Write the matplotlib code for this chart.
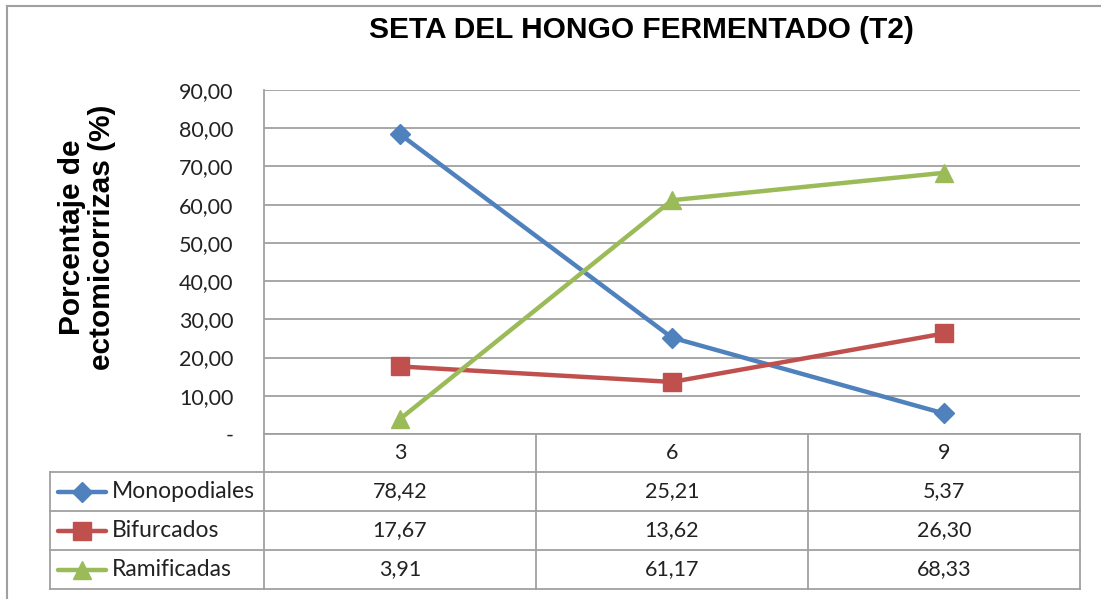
import numpy as np
import matplotlib
matplotlib.use("Agg")
import matplotlib.pyplot as plt
from matplotlib.lines import Line2D

# data
meses = ["3", "6", "9"]
series = ["Monopodiales", "Bifurcados", "Ramificadas"]
monopodiales = [78.42, 25.21, 5.37]
bifurcados = [17.67, 13.62, 26.30]
ramificadas = [3.91, 61.17, 68.33]
valores = [monopodiales, bifurcados, ramificadas]

colores = ["#4F81BD", "#C0504D", "#9BBB59"]
marcadores = ["D", "s", "^"]
msizes = [10, 12.8, 13.5]
lw_serie = 3.2
grid_c = "#A0A0A0"
txt_font = "Lato"
num_fs = 15.5
lab_fs = 16.5

W, H = 1101, 599
fig = plt.figure(figsize=(W / 100, H / 100), dpi=100)

def fx(px):
    return px / W

def fy(py):
    return 1 - py / H

# plot area in pixels
x0, x1, ytop, ybot = 264, 1080, 90, 434
ax = fig.add_axes([fx(x0), fy(ybot), fx(x1 - x0), (ybot - ytop) / H])
x = np.arange(len(meses))
for vals, c, m, ms in zip(valores, colores, marcadores, msizes):
    ax.plot(x, vals, color=c, lw=lw_serie, marker=m, markersize=ms, zorder=3)
ax.set_xlim(-0.5, len(meses) - 0.5)
ax.set_ylim(0, 90)
ax.set_yticks(np.arange(0, 91, 10))
ax.set_yticklabels(["-"] + [f"{v:.2f}".replace(".", ",") for v in range(10, 91, 10)],
                   fontsize=num_fs, family=txt_font, color="#222222")
ax.tick_params(axis="y", length=0, pad=22)
ax.set_xticks([])
ax.grid(axis="y", color=grid_c, lw=1.3)
ax.set_axisbelow(True)
for s in ["top", "right"]:
    ax.spines[s].set_visible(False)
ax.spines["left"].set_color(grid_c)
ax.spines["left"].set_linewidth(1.3)
ax.spines["bottom"].set_color(grid_c)
ax.spines["bottom"].set_linewidth(1.3)

# title and y label
fig.text(fx(641), fy(30), "SETA DEL HONGO FERMENTADO (T2)", ha="center", va="center",
         fontsize=21.5, fontweight="bold", family="Liberation Sans")
fig.text(fx(87), fy(237), "Porcentaje de\nectomicorrizas (%)", ha="center", va="center",
         rotation=90, fontsize=21.5, fontweight="bold", family="Liberation Sans",
         linespacing=1.1)

# chart border
fig.add_artist(Line2D([fx(7), fx(W)], [fy(6), fy(6)], color="#A0A0A0", lw=1.5))
fig.add_artist(Line2D([fx(7), fx(7)], [fy(6), fy(H)], color="#A0A0A0", lw=1.5))

# data table
row_y = [434, 472, 511, 550, 589]
col_x = [50, 264, 536, 808, 1080]

def hline(xa, xb, y):
    fig.add_artist(Line2D([fx(xa), fx(xb)], [fy(y), fy(y)], color=grid_c, lw=1.3))

def vline(xp, ya, yb):
    fig.add_artist(Line2D([fx(xp), fx(xp)], [fy(ya), fy(yb)], color=grid_c, lw=1.3))

hline(264, 1080, 472)
for y in row_y[2:]:
    hline(50, 1080, y)
hline(50, 264, 472)
vline(50, 472, 589)
for xp in col_x[1:]:
    vline(xp, 434, 589)

for j, m in enumerate(meses):
    cx = (col_x[j + 1] + col_x[j + 2]) / 2
    fig.text(fx(cx), fy((row_y[0] + row_y[1]) / 2), m, ha="center", va="center",
             fontsize=num_fs, family=txt_font, color="#222222")

for i, (nombre, vals) in enumerate(zip(series, valores)):
    cy = (row_y[i + 1] + row_y[i + 2]) / 2
    fig.add_artist(Line2D([fx(58), fx(106)], [fy(cy), fy(cy)], color=colores[i], lw=lw_serie,
                          solid_capstyle="round"))
    fig.add_artist(Line2D([fx(82)], [fy(cy)], color=colores[i], marker=marcadores[i],
                          markersize=msizes[i], lw=0))
    fig.text(fx(112), fy(cy), nombre, ha="left", va="center", fontsize=lab_fs,
             family=txt_font, color="#222222")
    for j, v in enumerate(vals):
        cx = (col_x[j + 1] + col_x[j + 2]) / 2
        fig.text(fx(cx), fy(cy), f"{v:.2f}".replace(".", ","), ha="center", va="center",
                 fontsize=num_fs, family=txt_font, color="#222222")

fig.savefig("out.png", dpi=100)
